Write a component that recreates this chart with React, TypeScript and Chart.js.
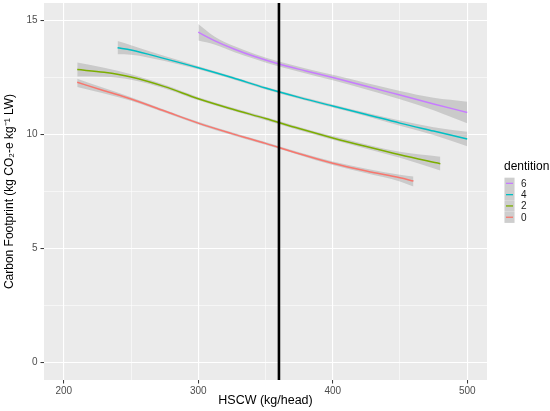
import React, { useEffect, useRef } from 'react';
import Chart from 'chart.js/auto';

// HSCW (kg/head) points along each smooth, with fit and confidence band
const hscw0 = [210, 230, 250, 275, 300, 325, 350, 375, 400, 425, 450, 460];
const fit0 = [12.29, 11.92, 11.56, 11.03, 10.5, 10.04, 9.61, 9.16, 8.74, 8.4, 8.1, 7.96];
const lower0 = [12.08, 11.8, 11.48, 10.97, 10.44, 9.98, 9.55, 9.1, 8.66, 8.3, 7.94, 7.72];
const upper0 = [12.45, 12.04, 11.64, 11.09, 10.56, 10.1, 9.67, 9.22, 8.82, 8.5, 8.24, 8.16];

const hscw2 = [210, 230, 250, 275, 300, 325, 350, 375, 400, 425, 450, 480];
const fit2 = [12.85, 12.73, 12.52, 12.1, 11.57, 11.12, 10.7, 10.26, 9.85, 9.47, 9.11, 8.72];
const lower2 = [12.54, 12.53, 12.4, 12.02, 11.5, 11.05, 10.63, 10.19, 9.77, 9.38, 8.98, 8.42];
const upper2 = [13.16, 12.93, 12.64, 12.18, 11.64, 11.19, 10.77, 10.33, 9.93, 9.56, 9.24, 9.02];

const hscw4 = [240, 250, 275, 300, 325, 350, 375, 400, 425, 450, 475, 500];
const fit4 = [13.81, 13.71, 13.33, 12.93, 12.5, 12.04, 11.63, 11.25, 10.88, 10.5, 10.15, 9.8];
const lower4 = [13.52, 13.5, 13.22, 12.86, 12.44, 11.98, 11.57, 11.18, 10.8, 10.39, 9.98, 9.49];
const upper4 = [14.1, 13.92, 13.44, 13.0, 12.56, 12.1, 11.69, 11.32, 10.96, 10.61, 10.32, 10.12];

const hscw6 = [300, 312, 327, 342, 360, 380, 400, 425, 450, 475, 500];
const fit6 = [14.49, 14.12, 13.74, 13.42, 13.09, 12.79, 12.5, 12.12, 11.73, 11.34, 10.97];
const lower6 = [14.12, 13.95, 13.61, 13.31, 12.98, 12.68, 12.38, 11.98, 11.55, 11.07, 10.49];
const upper6 = [14.85, 14.3, 13.87, 13.53, 13.2, 12.9, 12.62, 12.26, 11.91, 11.61, 11.44];

const dentitionLabels = ['0', '2', '4', '6'];
const dentitionColors = ['#F8766D', '#7CAE00', '#00BFC4', '#C77CFF'];

const xBreaks = [200, 300, 400, 500];
const xMinorBreaks = [250, 350, 450];
const yBreaks = [0, 5, 10, 15];
const yMinorBreaks = [2.5, 7.5, 12.5];

const cutoffHSCW = 360;

const FONT = "'Liberation Sans', Arial, sans-serif";
const RIBBON = 'rgba(153,153,153,0.4)';

const toPoints = (xs: number[], ys: number[]) => xs.map((x, i) => ({ x, y: ys[i] }));

const panelBackground = {
  id: 'panelBackground',
  beforeDraw(chart: any) {
    const { ctx, chartArea } = chart;
    ctx.save();
    ctx.fillStyle = '#EBEBEB';
    ctx.fillRect(chartArea.left, chartArea.top, chartArea.right - chartArea.left, chartArea.bottom - chartArea.top);
    ctx.restore();
  },
};

const cutoffLine = {
  id: 'cutoffLine',
  afterDatasetsDraw(chart: any) {
    const { ctx, chartArea, scales } = chart;
    const x = scales.x.getPixelForValue(cutoffHSCW);
    ctx.save();
    ctx.strokeStyle = '#000000';
    ctx.lineWidth = 2.6;
    ctx.beginPath();
    ctx.moveTo(x, chartArea.top);
    ctx.lineTo(x, chartArea.bottom);
    ctx.stroke();
    ctx.restore();
  },
};

const ggLegend = {
  id: 'ggLegend',
  afterDraw(chart: any) {
    const { ctx } = chart;
    const left = 504.5;
    const top = 177.7;
    const keyH = 11.3;
    const keyW = 10;
    ctx.save();
    ctx.font = `12px ${FONT}`;
    ctx.fillStyle = '#000000';
    ctx.textBaseline = 'middle';
    ctx.textAlign = 'left';
    ctx.fillText('dentition', 504, 167);
    const order = [3, 2, 1, 0];
    order.forEach((s, i) => {
      const y = top + i * keyH;
      ctx.fillStyle = '#F2F2F2';
      ctx.fillRect(left, y, keyW, keyH);
      ctx.fillStyle = RIBBON;
      ctx.fillRect(left, y, keyW, keyH);
      ctx.strokeStyle = dentitionColors[s];
      ctx.lineWidth = 1.3;
      ctx.beginPath();
      ctx.moveTo(left + 1.5, y + keyH / 2);
      ctx.lineTo(left + keyW - 1.5, y + keyH / 2);
      ctx.stroke();
      ctx.fillStyle = '#1A1A1A';
      ctx.font = `10px ${FONT}`;
      ctx.fillText(dentitionLabels[s], 521, y + keyH / 2 + 0.5);
    });
    ctx.restore();
  },
};

const App: React.FC = () => {
  const chartRef = useRef<HTMLCanvasElement>(null);
  const chartInstance = useRef<Chart>();

  useEffect(() => {
    if (!chartRef.current) return;
    const myChartRef = chartRef.current.getContext('2d');
    if (!myChartRef) return;

    const series = [
      { x: hscw0, fit: fit0, lo: lower0, hi: upper0 },
      { x: hscw2, fit: fit2, lo: lower2, hi: upper2 },
      { x: hscw4, fit: fit4, lo: lower4, hi: upper4 },
      { x: hscw6, fit: fit6, lo: lower6, hi: upper6 },
    ];

    const datasets: any[] = [];
    series.forEach((s, i) => {
      const base = datasets.length;
      // upper edge of band, filled down to the lower edge
      datasets.push({
        label: `upper ${dentitionLabels[i]}`,
        data: toPoints(s.x, s.hi),
        borderWidth: 0,
        borderColor: 'rgba(0,0,0,0)',
        backgroundColor: RIBBON,
        fill: base + 1,
        pointRadius: 0,
        cubicInterpolationMode: 'monotone',
        order: 20 - i * 2,
      });
      datasets.push({
        label: `lower ${dentitionLabels[i]}`,
        data: toPoints(s.x, s.lo),
        borderWidth: 0,
        borderColor: 'rgba(0,0,0,0)',
        fill: false,
        pointRadius: 0,
        cubicInterpolationMode: 'monotone',
        order: 21 - i * 2,
      });
      datasets.push({
        label: dentitionLabels[i],
        data: toPoints(s.x, s.fit),
        borderColor: dentitionColors[i],
        borderWidth: 1.5,
        fill: false,
        pointRadius: 0,
        pointHoverRadius: 0,
        cubicInterpolationMode: 'monotone',
        order: 1,
      });
    });

    const xTicks = [...xBreaks, ...xMinorBreaks].sort((a, b) => a - b);
    const yTicks = [...yBreaks, ...yMinorBreaks].sort((a, b) => a - b);

    chartInstance.current = new Chart(myChartRef, {
      type: 'line',
      data: { datasets },
      plugins: [panelBackground, cutoffLine, ggLegend],
      options: {
        responsive: false,
        animation: false,
        layout: { padding: { top: 3, right: 63, bottom: 0, left: 0 } },
        plugins: {
          legend: { display: false },
          tooltip: { enabled: false },
        },
        scales: {
          x: {
            type: 'linear',
            min: 185.3,
            max: 514.7,
            afterBuildTicks: (axis: any) => {
              axis.ticks = xTicks.map((v) => ({ value: v }));
            },
            afterFit: (axis: any) => {
              axis.height = 31;
              axis.paddingLeft = 0;
              axis.paddingRight = 0;
            },
            border: { display: false },
            grid: {
              color: '#FFFFFF',
              lineWidth: (c: any) => (xBreaks.includes(c.tick?.value) ? 1.1 : 0.55),
              tickColor: (c: any) => (xBreaks.includes(c.tick?.value) ? '#333333' : 'rgba(0,0,0,0)'),
              tickLength: 3.5,
              tickWidth: 1,
            },
            ticks: {
              autoSkip: false,
              maxRotation: 0,
              padding: 1.5,
              color: '#4D4D4D',
              font: { size: 10, family: FONT },
              callback: (v: any) => (xBreaks.includes(Number(v)) ? String(v) : ''),
            },
            title: {
              display: true,
              text: 'HSCW (kg/head)',
              color: '#000000',
              font: { size: 12.5, family: FONT },
              padding: { top: 0, bottom: 2.5 },
            },
          },
          y: {
            type: 'linear',
            min: -0.77,
            max: 15.77,
            afterBuildTicks: (axis: any) => {
              axis.ticks = yTicks.map((v) => ({ value: v }));
            },
            afterFit: (axis: any) => {
              axis.width = 44;
              axis.paddingTop = 0;
              axis.paddingBottom = 0;
            },
            border: { display: false },
            grid: {
              color: '#FFFFFF',
              lineWidth: (c: any) => (yBreaks.includes(c.tick?.value) ? 1.1 : 0.55),
              tickColor: (c: any) => (yBreaks.includes(c.tick?.value) ? '#333333' : 'rgba(0,0,0,0)'),
              tickLength: 3.5,
              tickWidth: 1,
            },
            ticks: {
              autoSkip: false,
              padding: 3,
              color: '#4D4D4D',
              font: { size: 10, family: FONT },
              callback: (v: any) => (yBreaks.includes(Number(v)) ? String(v) : ''),
            },
            title: {
              display: true,
              text: 'Carbon Footprint (kg CO₂-e kg⁻¹ LW)',
              color: '#000000',
              font: { size: 12, family: FONT },
              padding: { top: 2, bottom: 0 },
            },
          },
        },
      },
    } as any);

    return () => {
      if (chartInstance.current) {
        chartInstance.current.destroy();
      }
    };
  }, []);

  return (
    <div style={{ position: 'absolute', left: 0, top: 0, width: 550, height: 411, background: '#FFFFFF' }}>
      <canvas ref={chartRef} width={550} height={411} />
    </div>
  );
};

export default App;
